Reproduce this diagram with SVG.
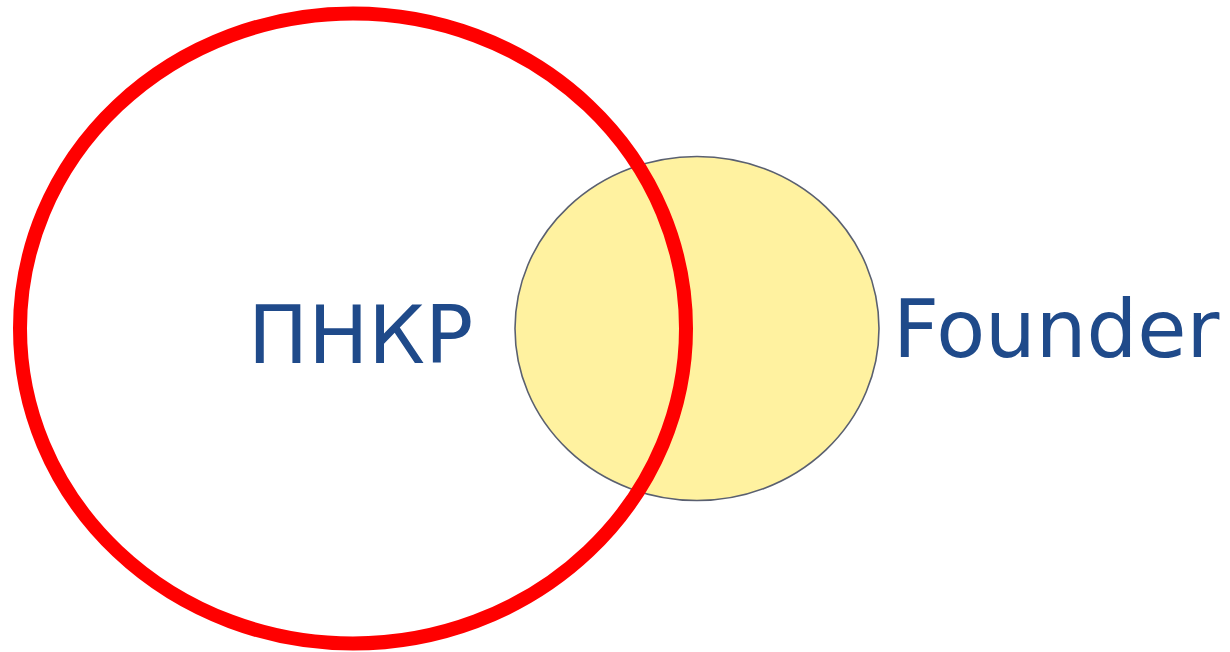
<svg xmlns="http://www.w3.org/2000/svg" width="1230" height="652" viewBox="0 0 1230 652">
<style>
.lbl{font-family:"DejaVu Sans","Verdana",sans-serif;font-size:80px;fill:#1F4A8A}
</style>
<rect width="1230" height="652" fill="#ffffff"/>
<g id="founder-circle">
<ellipse cx="697" cy="328.5" rx="182" ry="172" fill="#FFF2A0" stroke="#5A6070" stroke-width="1.6"/>
</g>
<g id="pnkr-circle">
<ellipse cx="353" cy="328.5" rx="333" ry="315" fill="none" stroke="#FF0000" stroke-width="14"/>
</g>
<g id="labels">
<text class="lbl" x="248" y="363">ПНКР</text>
<text class="lbl" x="893" y="357">Founder</text>
</g>
</svg>
